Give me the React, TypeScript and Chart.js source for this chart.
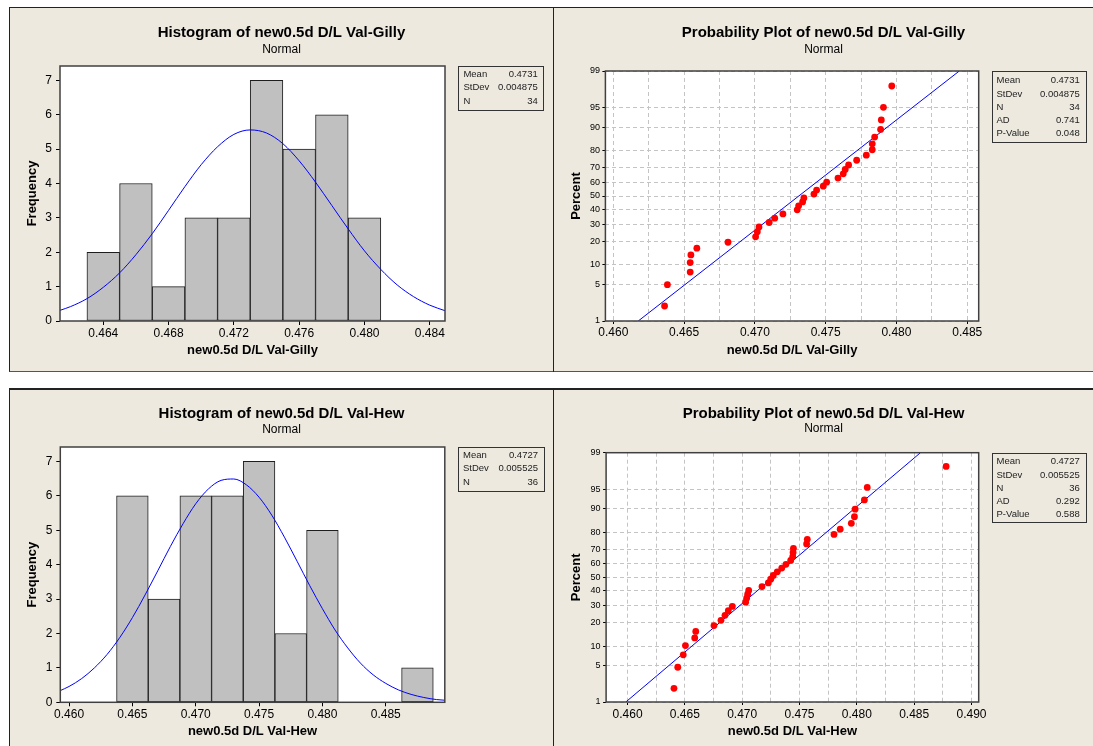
import React, { useEffect, useRef } from 'react';
import { Chart, registerables, LinearScale } from 'chart.js';

Chart.register(...registerables);

// ---------------- DATA ----------------
const freqTicks = [0, 1, 2, 3, 4, 5, 6, 7];
const freqLabels = ['0', '1', '2', '3', '4', '5', '6', '7'];

// Gilly histogram
const gillyBinCenters = [0.464, 0.466, 0.468, 0.47, 0.472, 0.474, 0.476, 0.478, 0.48];
const gillyCounts = [2, 4, 1, 3, 3, 7, 5, 6, 3];
const gillyCurveX = [0.46135, 0.462, 0.463, 0.464, 0.465, 0.466, 0.467, 0.468, 0.469, 0.47, 0.471, 0.472, 0.473, 0.474, 0.475, 0.476, 0.477, 0.478, 0.479, 0.48, 0.481, 0.482, 0.483, 0.484, 0.48493];
const gillyCurveY = [0.31, 0.42, 0.65, 0.98, 1.4, 1.93, 2.54, 3.22, 3.91, 4.55, 5.07, 5.43, 5.56, 5.47, 5.16, 4.66, 4.04, 3.36, 2.68, 2.04, 1.5, 1.05, 0.71, 0.46, 0.3];
const gillyHistXTicks = [0.464, 0.468, 0.472, 0.476, 0.48, 0.484];
const gillyHistXLabels = ['0.464', '0.468', '0.472', '0.476', '0.480', '0.484'];

// Hew histogram
const hewBinCenters = [0.465, 0.4675, 0.47, 0.4725, 0.475, 0.4775, 0.48, 0.4825, 0.485, 0.4875];
const hewCounts = [6, 3, 6, 6, 7, 2, 5, 0, 0, 1];
const hewCurveX = [0.45931, 0.46, 0.461, 0.462, 0.463, 0.464, 0.465, 0.466, 0.467, 0.468, 0.469, 0.47, 0.471, 0.472, 0.473, 0.474, 0.475, 0.476, 0.477, 0.478, 0.479, 0.48, 0.481, 0.482, 0.483, 0.484, 0.485, 0.486, 0.487, 0.488, 0.489, 0.48966];
const hewCurveY = [0.34, 0.46, 0.69, 1.0, 1.39, 1.88, 2.46, 3.12, 3.82, 4.53, 5.19, 5.77, 6.2, 6.45, 6.49, 6.32, 5.96, 5.44, 4.8, 4.1, 3.39, 2.72, 2.1, 1.58, 1.14, 0.8, 0.55, 0.36, 0.23, 0.14, 0.08, 0.06];
const hewHistXTicks = [0.46, 0.465, 0.47, 0.475, 0.48, 0.485];
const hewHistXLabels = ['0.460', '0.465', '0.470', '0.475', '0.480', '0.485'];

// Probability plots
const pctTicks = [1, 5, 10, 20, 30, 40, 50, 60, 70, 80, 90, 95, 99];
const pctLabels = ['1', '5', '10', '20', '30', '40', '50', '60', '70', '80', '90', '95', '99'];

const gillyProbX = [0.46362, 0.46382, 0.46543, 0.46543, 0.46548, 0.4659, 0.4681, 0.47005, 0.47017, 0.47029, 0.47101, 0.4714, 0.47198, 0.47299, 0.47309, 0.47337, 0.47346, 0.47417, 0.47436, 0.47483, 0.47507, 0.47587, 0.47624, 0.47638, 0.47662, 0.47719, 0.47787, 0.47829, 0.47829, 0.47846, 0.47888, 0.47893, 0.47908, 0.47967];
const gillyProbPct = [2.03, 4.94, 7.85, 10.76, 13.66, 16.57, 19.48, 22.38, 25.29, 28.2, 31.1, 34.01, 36.92, 39.83, 42.73, 45.64, 48.55, 51.45, 54.36, 57.27, 60.17, 63.08, 65.99, 68.9, 71.8, 74.71, 77.62, 80.52, 83.43, 86.34, 89.24, 92.15, 95.06, 97.97];
const gillyFitX = [0.46176, 0.48444];
const gillyFitPct = [1, 99];
const gillyProbXTicks = [0.46, 0.4625, 0.465, 0.4675, 0.47, 0.4725, 0.475, 0.4775, 0.48, 0.4825, 0.485];
const gillyProbXLabels = ['0.460', '', '0.465', '', '0.470', '', '0.475', '', '0.480', '', '0.485'];

const hewProbX = [0.46405, 0.46438, 0.46486, 0.46505, 0.46586, 0.46595, 0.46754, 0.46815, 0.4685, 0.46879, 0.46914, 0.4703, 0.47039, 0.47048, 0.47057, 0.47173, 0.47228, 0.47249, 0.47271, 0.47306, 0.47345, 0.47382, 0.47423, 0.47441, 0.47444, 0.47447, 0.47562, 0.47568, 0.47801, 0.47855, 0.47952, 0.47979, 0.47985, 0.48066, 0.48091, 0.48779];
const hewProbPct = [1.92, 4.67, 7.42, 10.16, 12.91, 15.66, 18.41, 21.15, 23.9, 26.65, 29.4, 32.14, 34.89, 37.64, 40.38, 43.13, 45.88, 48.63, 51.37, 54.12, 56.87, 59.62, 62.36, 65.11, 67.86, 70.6, 73.35, 76.1, 78.85, 81.59, 84.34, 87.09, 89.84, 92.58, 95.33, 98.08];
const hewFitX = [0.45985, 0.48555];
const hewFitPct = [1, 99];
const hewProbXTicks = [0.46, 0.4625, 0.465, 0.4675, 0.47, 0.4725, 0.475, 0.4775, 0.48, 0.4825, 0.485, 0.4875, 0.49];
const hewProbXLabels = ['0.460', '', '0.465', '', '0.470', '', '0.475', '', '0.480', '', '0.485', '', '0.490'];

// Stats tables
const histStatLabels = ['Mean', 'StDev', 'N'];
const probStatLabels = ['Mean', 'StDev', 'N', 'AD', 'P-Value'];
const gillyStats = ['0.4731', '0.004875', '34', '0.741', '0.048'];
const hewStats = ['0.4727', '0.005525', '36', '0.292', '0.588'];

// ---------------- STYLE ----------------
const FONT = '"Liberation Sans", Arial, sans-serif';
const BEIGE = '#EDE9DF';
Chart.defaults.font.family = FONT;
Chart.defaults.color = '#000';

// ---------------- Probability (normal) scale ----------------
function probit(p: number): number {
  const a = [-3.969683028665376e1, 2.209460984245205e2, -2.759285104469687e2, 1.38357751867269e2, -3.066479806614716e1, 2.506628277459239];
  const b = [-5.447609879822406e1, 1.615858368580409e2, -1.556989798598866e2, 6.680131188771972e1, -1.328068155288572e1];
  const c = [-7.784894002430293e-3, -3.223964580411365e-1, -2.400758277161838, -2.549732539343734, 4.374664141464968, 2.938163982698783];
  const d = [7.784695709041462e-3, 3.224671290700398e-1, 2.445134137142996, 3.754408661907416];
  const pl = 0.02425;
  if (p < pl) {
    const q = Math.sqrt(-2 * Math.log(p));
    return (((((c[0] * q + c[1]) * q + c[2]) * q + c[3]) * q + c[4]) * q + c[5]) / ((((d[0] * q + d[1]) * q + d[2]) * q + d[3]) * q + 1);
  }
  if (p <= 1 - pl) {
    const q = p - 0.5;
    const r = q * q;
    return ((((((a[0] * r + a[1]) * r + a[2]) * r + a[3]) * r + a[4]) * r + a[5]) * q) / (((((b[0] * r + b[1]) * r + b[2]) * r + b[3]) * r + b[4]) * r + 1);
  }
  const q = Math.sqrt(-2 * Math.log(1 - p));
  return -(((((c[0] * q + c[1]) * q + c[2]) * q + c[3]) * q + c[4]) * q + c[5]) / ((((d[0] * q + d[1]) * q + d[2]) * q + d[3]) * q + 1);
}
function normCdf(z: number): number {
  const t = 1 / (1 + 0.3275911 * Math.abs(z) / Math.SQRT2);
  const y = 1 - (((((1.061405429 * t - 1.453152027) * t) + 1.421413741) * t - 0.284496736) * t + 0.254829592) * t * Math.exp(-z * z / 2);
  return z >= 0 ? 0.5 * (1 + y) : 0.5 * (1 - y);
}

class ProbabilityScale extends LinearScale {
  static id = 'probability';
  static defaults = { ...(LinearScale as any).defaults };
  getPixelForValue(value: number) {
    const self = this as any;
    const a = probit(self.min / 100);
    const b = probit(self.max / 100);
    const v = Math.min(Math.max(value, 0.0001), 99.9999);
    const z = probit(v / 100);
    return self.getPixelForDecimal((z - a) / (b - a));
  }
  getValueForPixel(pixel: number) {
    const self = this as any;
    const a = probit(self.min / 100);
    const b = probit(self.max / 100);
    const z = a + self.getDecimalForPixel(pixel) * (b - a);
    return normCdf(z) * 100;
  }
}
Chart.register(ProbabilityScale as any);

// ---------------- Plugins ----------------
const plotFramePlugin = {
  id: 'plotFrame',
  beforeDraw(chart: any) {
    const { ctx, chartArea: ca } = chart;
    ctx.save();
    ctx.fillStyle = '#FFFFFF';
    ctx.fillRect(ca.left, ca.top, ca.right - ca.left, ca.bottom - ca.top);
    ctx.restore();
  },
  afterDraw(chart: any) {
    const { ctx, chartArea: ca } = chart;
    ctx.save();
    ctx.strokeStyle = '#404040';
    ctx.lineWidth = 1.5;
    ctx.strokeRect(ca.left, ca.top, ca.right - ca.left, ca.bottom - ca.top);
    ctx.restore();
  },
};

const statsBoxPlugin = {
  id: 'statsBox',
  afterDraw(chart: any, _args: any, o: any) {
    if (!o || !o.labels) return;
    const { ctx } = chart;
    ctx.save();
    ctx.strokeStyle = '#333';
    ctx.lineWidth = 1;
    ctx.strokeRect(Math.round(o.x) + 0.5, Math.round(o.y) + 0.5, Math.round(o.w), Math.round(o.h));
    ctx.font = `9.5px ${FONT}`;
    ctx.fillStyle = '#222';
    ctx.textBaseline = 'middle';
    o.labels.forEach((lab: string, i: number) => {
      const y = o.y + o.first + i * o.gap;
      ctx.textAlign = 'left';
      ctx.fillText(lab, o.x + 5, y);
      ctx.textAlign = 'right';
      ctx.fillText(o.values[i], o.x + o.w - 6, y);
    });
    ctx.restore();
  },
};

// ---------------- Layout ----------------
type Geo = {
  x: number; y: number; w: number; h: number;
  left: number; right: number; top: number; bottom: number;
  c1: number; c2: number; yTitleX: number; xTitleY: number; xTickPad: number;
  box: { x: number; y: number; w: number; h: number; first: number; gap: number };
};

const geoTL: Geo = { x: 10, y: 8, w: 543, h: 363, left: 50, right: 435, top: 58, bottom: 313, c1: 25, c2: 42, yTitleX: 22.6, xTitleY: 342, xTickPad: 1,
  box: { x: 448.4, y: 58, w: 85.3, h: 44, first: 8, gap: 13.8 } };
const geoTR: Geo = { x: 554, y: 8, w: 539, h: 363, left: 51.4, right: 424.7, top: 63, bottom: 313, c1: 25, c2: 42, yTitleX: 22, xTitleY: 342, xTickPad: 1.8,
  box: { x: 437.5, y: 63, w: 94.2, h: 70.7, first: 9.7, gap: 13.25 } };
const geoBL: Geo = { x: 10, y: 389, w: 543, h: 357, left: 50.3, right: 434.8, top: 58, bottom: 313.3, c1: 25, c2: 40.3, yTitleX: 22.6, xTitleY: 342, xTickPad: 1.5,
  box: { x: 448, y: 58, w: 86, h: 44, first: 8.3, gap: 13.35 } };
const geoBR: Geo = { x: 554, y: 389, w: 539, h: 357, left: 52.1, right: 424.7, top: 63.7, bottom: 313, c1: 25, c2: 40, yTitleX: 22, xTitleY: 342, xTickPad: 2.8,
  box: { x: 437.5, y: 63.7, w: 94.2, h: 69.3, first: 9, gap: 13.25 } };

function titlePlugins(g: Geo, title: string, labels: string[], values: string[]) {
  return {
    legend: { display: false },
    tooltip: { enabled: false },
    title: {
      display: true, text: title, color: '#000',
      font: { size: 15, weight: 'bold', lineHeight: 1.1 },
      padding: { top: g.c1 - 8.25, bottom: Math.max(0, g.c2 - g.c1 - 14.85) },
    },
    subtitle: {
      display: true, text: 'Normal', color: '#000',
      font: { size: 12, lineHeight: 1.1 },
      padding: { top: 0, bottom: g.top - g.c2 - 6.6 },
    },
    statsBox: { ...g.box, labels, values },
  };
}

function padScale(g: Geo) {
  return {
    type: 'linear', position: 'right', display: true,
    grid: { display: false }, ticks: { display: false }, border: { display: false },
    afterFit: (s: any) => { s.width = g.w - g.right; },
  };
}

function xScale(g: Geo, min: number, max: number, ticks: number[], labels: string[], title: string, gridded: boolean) {
  return {
    type: 'linear', position: 'bottom', min, max, offset: false,
    afterBuildTicks: (s: any) => { s.ticks = ticks.map((v) => ({ value: v })); },
    afterFit: (s: any) => { s.height = g.h - g.bottom; },
    ticks: { font: { size: 12 }, color: '#000', padding: g.xTickPad, autoSkip: false, maxRotation: 0,
      callback: (_v: any, i: number) => labels[i] },
    grid: gridded
      ? { display: true, offset: false, drawOnChartArea: true, drawTicks: true, tickLength: 3, color: '#C4C4C4', lineWidth: 1,
          tickColor: (ctx: any) => (labels[ctx.index] ? '#000' : 'rgba(0,0,0,0)') }
      : { display: true, offset: false, drawOnChartArea: false, drawTicks: true, tickLength: 4, color: '#000', lineWidth: 1 },
    border: { display: false, dash: gridded ? [4, 3] : [] },
    title: { display: true, text: title, color: '#000', font: { size: 13, weight: 'bold' },
      padding: { top: 0, bottom: g.h - 7.8 - g.xTitleY } },
  };
}

function histConfig(g: Geo, title: string, xTitle: string, centers: number[], counts: number[], cx: number[], cy: number[],
  xmin: number, xmax: number, xt: number[], xl: string[], stats: string[]) {
  return {
    type: 'scatter',
    data: {
      datasets: [
        {
          type: 'line', order: 0,
          data: cx.map((x, i) => ({ x, y: cy[i] })),
          borderColor: '#0000FF', borderWidth: 1, pointRadius: 0, cubicInterpolationMode: 'monotone', fill: false,
        },
        {
          type: 'bar', order: 1,
          data: centers.map((x, i) => ({ x, y: counts[i] })),
          backgroundColor: '#C0C0C0', borderColor: '#1E1E1E', borderWidth: 1, borderSkipped: false,
          barPercentage: 1, categoryPercentage: 1,
        },
      ],
    },
    options: {
      animation: false, responsive: false, devicePixelRatio: 1, maintainAspectRatio: false,
      layout: { padding: 0 },
      plugins: titlePlugins(g, title, histStatLabels, stats.slice(0, 3)),
      scales: {
        x: xScale(g, xmin, xmax, xt, xl, xTitle, false),
        y: {
          type: 'linear', position: 'left', min: 0, max: 7.42,
          afterBuildTicks: (s: any) => { s.ticks = freqTicks.map((v) => ({ value: v })); },
          afterFit: (s: any) => { s.width = g.left; },
          ticks: { font: { size: 12 }, color: '#000', padding: 4, autoSkip: false, callback: (_v: any, i: number) => freqLabels[i] },
          grid: { display: true, drawOnChartArea: false, drawTicks: true, tickLength: 4, color: '#000' },
          border: { display: false },
          title: { display: true, text: 'Frequency', color: '#000', font: { size: 13, weight: 'bold' }, padding: { top: g.yTitleX - 7.8 } },
        },
        rpad: padScale(g),
      },
    },
    plugins: [plotFramePlugin, statsBoxPlugin],
  };
}

function probConfig(g: Geo, title: string, xTitle: string, px: number[], pp: number[], fx: number[], fp: number[],
  xmin: number, xmax: number, xt: number[], xl: string[], stats: string[]) {
  return {
    type: 'scatter',
    data: {
      datasets: [
        {
          type: 'scatter', order: 0,
          data: px.map((x, i) => ({ x, y: pp[i] })),
          backgroundColor: '#FF0000', borderColor: '#FF0000', borderWidth: 0, pointRadius: 3.4,
        },
        {
          type: 'scatter', order: 1, showLine: true,
          data: fx.map((x, i) => ({ x, y: fp[i] })),
          borderColor: '#0000FF', borderWidth: 1, pointRadius: 0, fill: false,
        },
      ],
    },
    options: {
      animation: false, responsive: false, devicePixelRatio: 1, maintainAspectRatio: false,
      layout: { padding: 0 },
      plugins: titlePlugins(g, title, probStatLabels, stats),
      scales: {
        x: xScale(g, xmin, xmax, xt, xl, xTitle, true),
        y: {
          type: 'probability', position: 'left', min: 1, max: 99,
          afterBuildTicks: (s: any) => { s.ticks = pctTicks.map((v) => ({ value: v })); },
          afterFit: (s: any) => { s.width = g.left; },
          ticks: { font: { size: 9 }, color: '#000', padding: 2.5, autoSkip: false, callback: (_v: any, i: number) => pctLabels[i] },
          grid: { display: true, drawOnChartArea: true, drawTicks: true, tickLength: 3, color: '#C4C4C4', tickColor: '#000' },
          border: { display: false, dash: [4, 3] },
          title: { display: true, text: 'Percent', color: '#000', font: { size: 13, weight: 'bold' }, padding: { top: g.yTitleX - 7.8 } },
        },
        rpad: padScale(g),
      },
    },
    plugins: [plotFramePlugin, statsBoxPlugin],
  };
}

function ChartPanel({ geo, make }: { geo: Geo; make: () => any }) {
  const ref = useRef<HTMLCanvasElement>(null);
  useEffect(() => {
    const chart = new Chart(ref.current as HTMLCanvasElement, make());
    return () => chart.destroy();
  }, []);
  return (
    <canvas
      ref={ref}
      width={geo.w}
      height={geo.h}
      style={{ position: 'absolute', left: geo.x, top: geo.y, width: geo.w, height: geo.h, display: 'block' }}
    />
  );
}

export default function App() {
  return (
    <div style={{ position: 'absolute', left: 0, top: 0, width: 1093, height: 746, background: '#FFFFFF', overflow: 'hidden' }}>
      <div style={{ position: 'absolute', left: 9, top: 7, width: 1084, height: 365, background: BEIGE, borderTop: '1px solid #222', borderLeft: '1px solid #222', borderBottom: '1px solid #555', boxSizing: 'border-box' }} />
      <div style={{ position: 'absolute', left: 553, top: 7, width: 1, height: 365, background: '#222' }} />
      <div style={{ position: 'absolute', left: 9, top: 388, width: 1084, height: 358, background: BEIGE, borderTop: '2px solid #222', borderLeft: '1px solid #222', boxSizing: 'border-box' }} />
      <div style={{ position: 'absolute', left: 553, top: 388, width: 1, height: 358, background: '#222' }} />
      <ChartPanel geo={geoTL} make={() => histConfig(geoTL, 'Histogram of new0.5d D/L Val-Gilly', 'new0.5d D/L Val-Gilly',
        gillyBinCenters, gillyCounts, gillyCurveX, gillyCurveY, 0.46135, 0.48493, gillyHistXTicks, gillyHistXLabels, gillyStats)} />
      <ChartPanel geo={geoTR} make={() => probConfig(geoTR, 'Probability Plot of new0.5d D/L Val-Gilly', 'new0.5d D/L Val-Gilly',
        gillyProbX, gillyProbPct, gillyFitX, gillyFitPct, 0.45944, 0.48581, gillyProbXTicks, gillyProbXLabels, gillyStats)} />
      <ChartPanel geo={geoBL} make={() => histConfig(geoBL, 'Histogram of new0.5d D/L Val-Hew', 'new0.5d D/L Val-Hew',
        hewBinCenters, hewCounts, hewCurveX, hewCurveY, 0.45931, 0.48966, hewHistXTicks, hewHistXLabels, hewStats)} />
      <ChartPanel geo={geoBR} make={() => probConfig(geoBR, 'Probability Plot of new0.5d D/L Val-Hew', 'new0.5d D/L Val-Hew',
        hewProbX, hewProbPct, hewFitX, hewFitPct, 0.45813, 0.49063, hewProbXTicks, hewProbXLabels, hewStats)} />
    </div>
  );
}
